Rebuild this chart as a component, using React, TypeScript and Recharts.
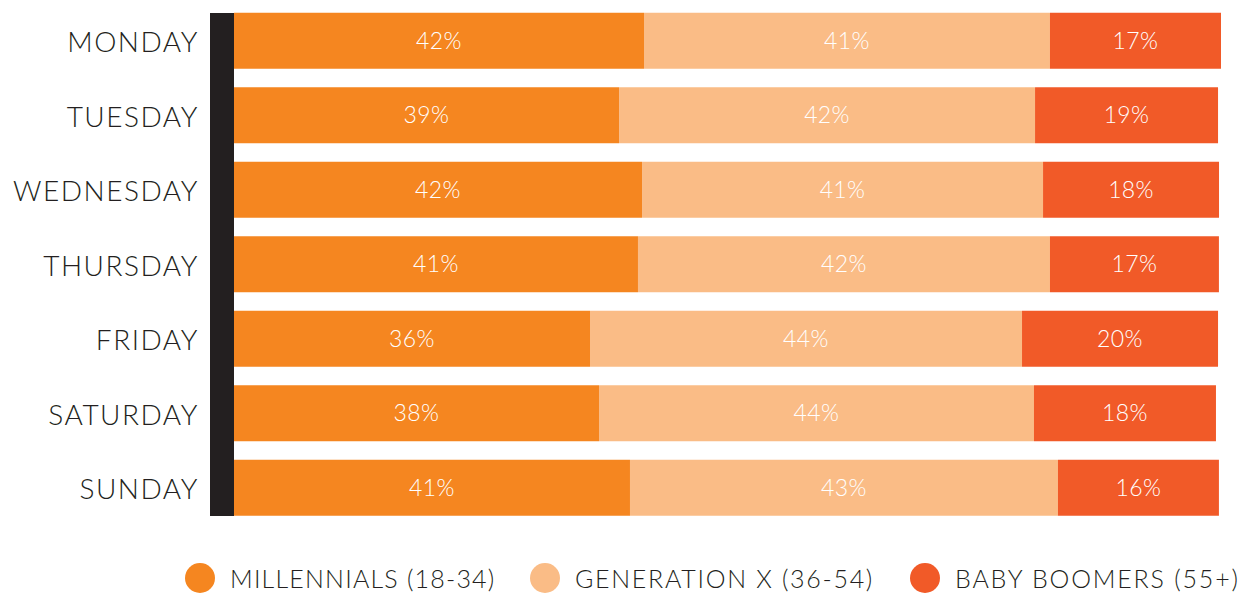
import React from 'react';
import { BarChart, Bar, XAxis, YAxis, LabelList, Legend, ReferenceArea } from 'recharts';

const days = ['MONDAY', 'TUESDAY', 'WEDNESDAY', 'THURSDAY', 'FRIDAY', 'SATURDAY', 'SUNDAY'];
const millennials = [41.54, 39.01, 41.34, 40.93, 36.07, 36.98, 40.12];
const generationX = [41.13, 42.15, 40.63, 41.74, 43.77, 44.07, 43.36];
const babyBoomers = [17.33, 18.54, 17.83, 17.12, 19.86, 18.44, 16.31];
const millennialsLabels = ['42%', '39%', '42%', '41%', '36%', '38%', '41%'];
const generationXLabels = ['41%', '42%', '41%', '42%', '44%', '44%', '43%'];
const babyBoomersLabels = ['17%', '19%', '18%', '17%', '20%', '18%', '16%'];

const seriesNames = ['MILLENNIALS (18-34)', 'GENERATION X (36-54)', 'BABY BOOMERS (55+)'];
const COLORS = ['#F58620', '#FABC86', '#F15A28'];
const DARK = '#231F20';
const FONT = 'Lato, "Open Sans", sans-serif';
const BAR_SIZE = 56;
const AXIS_MIN = -2.4316;
const LEGEND_ITEM_WIDTHS = [345, 380, 330];
const LEGEND_LETTER_SPACING = [1.2, 1.7, 1.8];

const data = days.map((day, i) => ({
  day,
  millennials: millennials[i],
  generationX: generationX[i],
  babyBoomers: babyBoomers[i],
  mLabel: millennialsLabels[i],
  gLabel: generationXLabels[i],
  bLabel: babyBoomersLabels[i],
}));

const DayTick = (props: any) => {
  const { x, y, payload } = props;
  return (
    <text x={x} y={y} dy={11} textAnchor="end" fill={DARK} fontFamily={FONT} fontWeight={300} fontSize={28} letterSpacing={1.5}>
      {payload.value}
    </text>
  );
};

const AxisBlock = (props: any) => {
  const { x, y, width, height } = props;
  const inset = (height / days.length - BAR_SIZE) / 2;
  return <rect x={x} y={y + inset} width={width} height={height - inset * 2} fill={DARK} />;
};

const LegendContent = () => (
  <div style={{ display: 'flex', alignItems: 'center', paddingLeft: 185, height: 30 }}>
    {seriesNames.map((name, i) => (
      <div key={name} style={{ display: 'flex', alignItems: 'center', width: LEGEND_ITEM_WIDTHS[i], flex: 'none' }}>
        <span style={{ width: 30, height: 30, borderRadius: 15, background: COLORS[i], display: 'inline-block', marginRight: 15, flex: 'none' }} />
        <span style={{ fontFamily: FONT, fontWeight: 300, fontSize: 25, color: DARK, letterSpacing: LEGEND_LETTER_SPACING[i], whiteSpace: 'nowrap' }}>{name}</span>
      </div>
    ))}
  </div>
);

const labelProps = { position: 'center' as const, fill: '#fff', fontFamily: FONT, fontWeight: 300, fontSize: 23, letterSpacing: 0.4 };

export default function App() {
  return (
    <div style={{ position: 'absolute', left: 0, top: 0, width: 1241, height: 595, background: '#fff' }}>
      <BarChart
        width={1241}
        height={595}
        data={data}
        layout="vertical"
        margin={{ top: 3.75, right: 20, bottom: 69.75, left: 0 }}
        barSize={BAR_SIZE}
      >
        <XAxis type="number" domain={[AXIS_MIN, 100]} hide allowDataOverflow />
        <YAxis
          type="category"
          dataKey="day"
          width={210}
          axisLine={false}
          tickLine={false}
          tickSize={0}
          tickMargin={11}
          tick={<DayTick />}
          interval={0}
        />
        <ReferenceArea x1={AXIS_MIN} x2={0} fill={DARK} fillOpacity={1} shape={<AxisBlock />} />
        <Bar dataKey="millennials" stackId="a" fill={COLORS[0]} isAnimationActive={false}>
          <LabelList dataKey="mLabel" {...labelProps} />
        </Bar>
        <Bar dataKey="generationX" stackId="a" fill={COLORS[1]} isAnimationActive={false}>
          <LabelList dataKey="gLabel" {...labelProps} />
        </Bar>
        <Bar dataKey="babyBoomers" stackId="a" fill={COLORS[2]} isAnimationActive={false}>
          <LabelList dataKey="bLabel" {...labelProps} />
        </Bar>
        <Legend
          layout="horizontal"
          verticalAlign="middle"
          align="center"
          content={<LegendContent />}
          wrapperStyle={{ top: 563, left: 0, width: 1241, height: 30 }}
        />
      </BarChart>
    </div>
  );
}
